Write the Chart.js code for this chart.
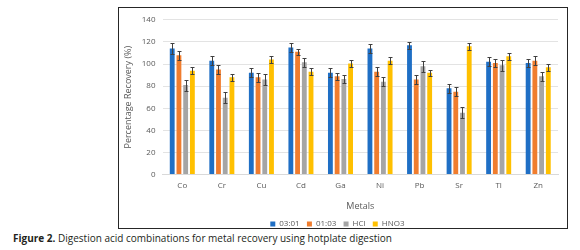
<!DOCTYPE html>
<html>
<head>
<meta charset="utf-8">
<script src="https://cdn.jsdelivr.net/npm/chart.js@4"></script>
<style>
  body { margin: 0; width: 580px; height: 250px; background: #fff; position: relative; overflow: hidden; }
  #box { position: absolute; left: 118px; top: 7px; width: 448px; height: 220px; border: 1px solid #262626; }
  #caption { position: absolute; left: 13px; top: 231px; font-family: "Open Sans", sans-serif; font-size: 10px; color: #231f20; white-space: nowrap; }
  #caption b { font-weight: 700; }
</style>
</head>
<body>
<div id="box"><canvas id="chart" width="448" height="220"></canvas></div>
<div id="caption"><b>Figure 2.</b> Digestion acid combinations for metal recovery using hotplate digestion</div>
<script>
const metals = ['Co', 'Cr', 'Cu', 'Cd', 'Ga', 'Ni', 'Pb', 'Sr', 'Tl', 'Zn'];
const seriesNames = ['03:01', '01:03', 'HCl', 'HNO3'];
const seriesColors = ['#1F6FC5', '#F07D2E', '#A5A5A5', '#FFC000'];

const ratio31 = [114, 103, 92, 115, 92, 114, 117, 78, 102, 101];
const ratio13 = [108, 95, 88, 111, 89, 93, 86, 75, 101, 103];
const hcl = [81, 69.5, 86, 101.5, 86.5, 84, 98, 56, 99, 89];
const hno3 = [94, 88, 104, 93, 100.5, 103, 92, 116, 107, 97];

const err31 = [5, 4, 4, 4, 4, 4, 3, 4, 4, 4];
const err13 = [4, 4, 4, 3, 3, 4, 4, 4, 4, 4];
const errHcl = [5, 5, 5, 4, 4, 4, 5, 5, 5, 4];
const errHno3 = [3, 3, 3, 3, 3, 3, 3, 3, 3, 3];

const yTicks = [0, 20, 40, 60, 80, 100, 120, 140];

const values = [ratio31, ratio13, hcl, hno3];
const errors = [err31, err13, errHcl, errHno3];

// little error bars on top of each bar
const errorBars = {
  id: 'errorBars',
  afterDatasetsDraw(chart) {
    const ctx = chart.ctx;
    const y = chart.scales.y;
    ctx.save();
    ctx.strokeStyle = '#404040';
    ctx.lineWidth = 1;
    chart.data.datasets.forEach((ds, i) => {
      const meta = chart.getDatasetMeta(i);
      meta.data.forEach((bar, j) => {
        const v = ds.data[j], e = errors[i][j];
        const top = Math.round(y.getPixelForValue(v + e)) + 0.5;
        const bot = Math.round(y.getPixelForValue(v - e)) + 0.5;
        const x = Math.round(bar.x) + 0.5;
        ctx.beginPath();
        ctx.moveTo(x, top); ctx.lineTo(x, bot);
        ctx.moveTo(x - 2, top); ctx.lineTo(x + 2, top);
        ctx.moveTo(x - 2, bot); ctx.lineTo(x + 2, bot);
        ctx.stroke();
      });
    });
    ctx.restore();
  }
};

const tickFont = { family: '"Open Sans", sans-serif', size: 8 };

new Chart(document.getElementById('chart'), {
  type: 'bar',
  data: {
    labels: metals,
    datasets: seriesNames.map((name, i) => ({
      label: name,
      data: values[i],
      backgroundColor: seriesColors[i],
      borderWidth: 0,
      categoryPercentage: 0.68,
      barPercentage: 0.72,
    })),
  },
  options: {
    responsive: false,
    devicePixelRatio: 1,
    animation: false,
    layout: { padding: { top: 3, right: 9, left: 4, bottom: -10 } },
    plugins: {
      title: { display: false },
      tooltip: { enabled: false },
      legend: {
        display: true,
        position: 'bottom',
        labels: {
          usePointStyle: true,
          pointStyle: 'rect',
          boxWidth: 5,
          boxHeight: 5,
          padding: 1,
          color: '#595959',
          font: tickFont,
          generateLabels: (chart) => Chart.defaults.plugins.legend.labels.generateLabels(chart).map(l => ({ ...l, text: l.text + '   ' })),
        },
      },
    },
    scales: {
      x: {
        grid: { display: false, drawTicks: false },
        border: { color: '#D9D9D9' },
        ticks: { color: '#595959', font: tickFont, padding: 6 },
        title: { display: true, text: 'Metals', color: '#595959', font: { family: '"Open Sans", sans-serif', size: 9 }, padding: { top: 5, bottom: 7 } },
      },
      y: {
        min: 0,
        max: 140,
        afterBuildTicks: (axis) => { axis.ticks = yTicks.map(v => ({ value: v })); },
        grid: { color: '#E3E3E3', drawTicks: false },
        border: { display: false },
        ticks: { color: '#595959', font: tickFont, padding: 7 },
        title: { display: true, text: 'Percentage Recovery (%)', color: '#595959', font: { family: '"Open Sans", sans-serif', size: 9 }, padding: { top: 0, bottom: 1 } },
      },
    },
  },
  plugins: [errorBars],
});
</script>
</body>
</html>
